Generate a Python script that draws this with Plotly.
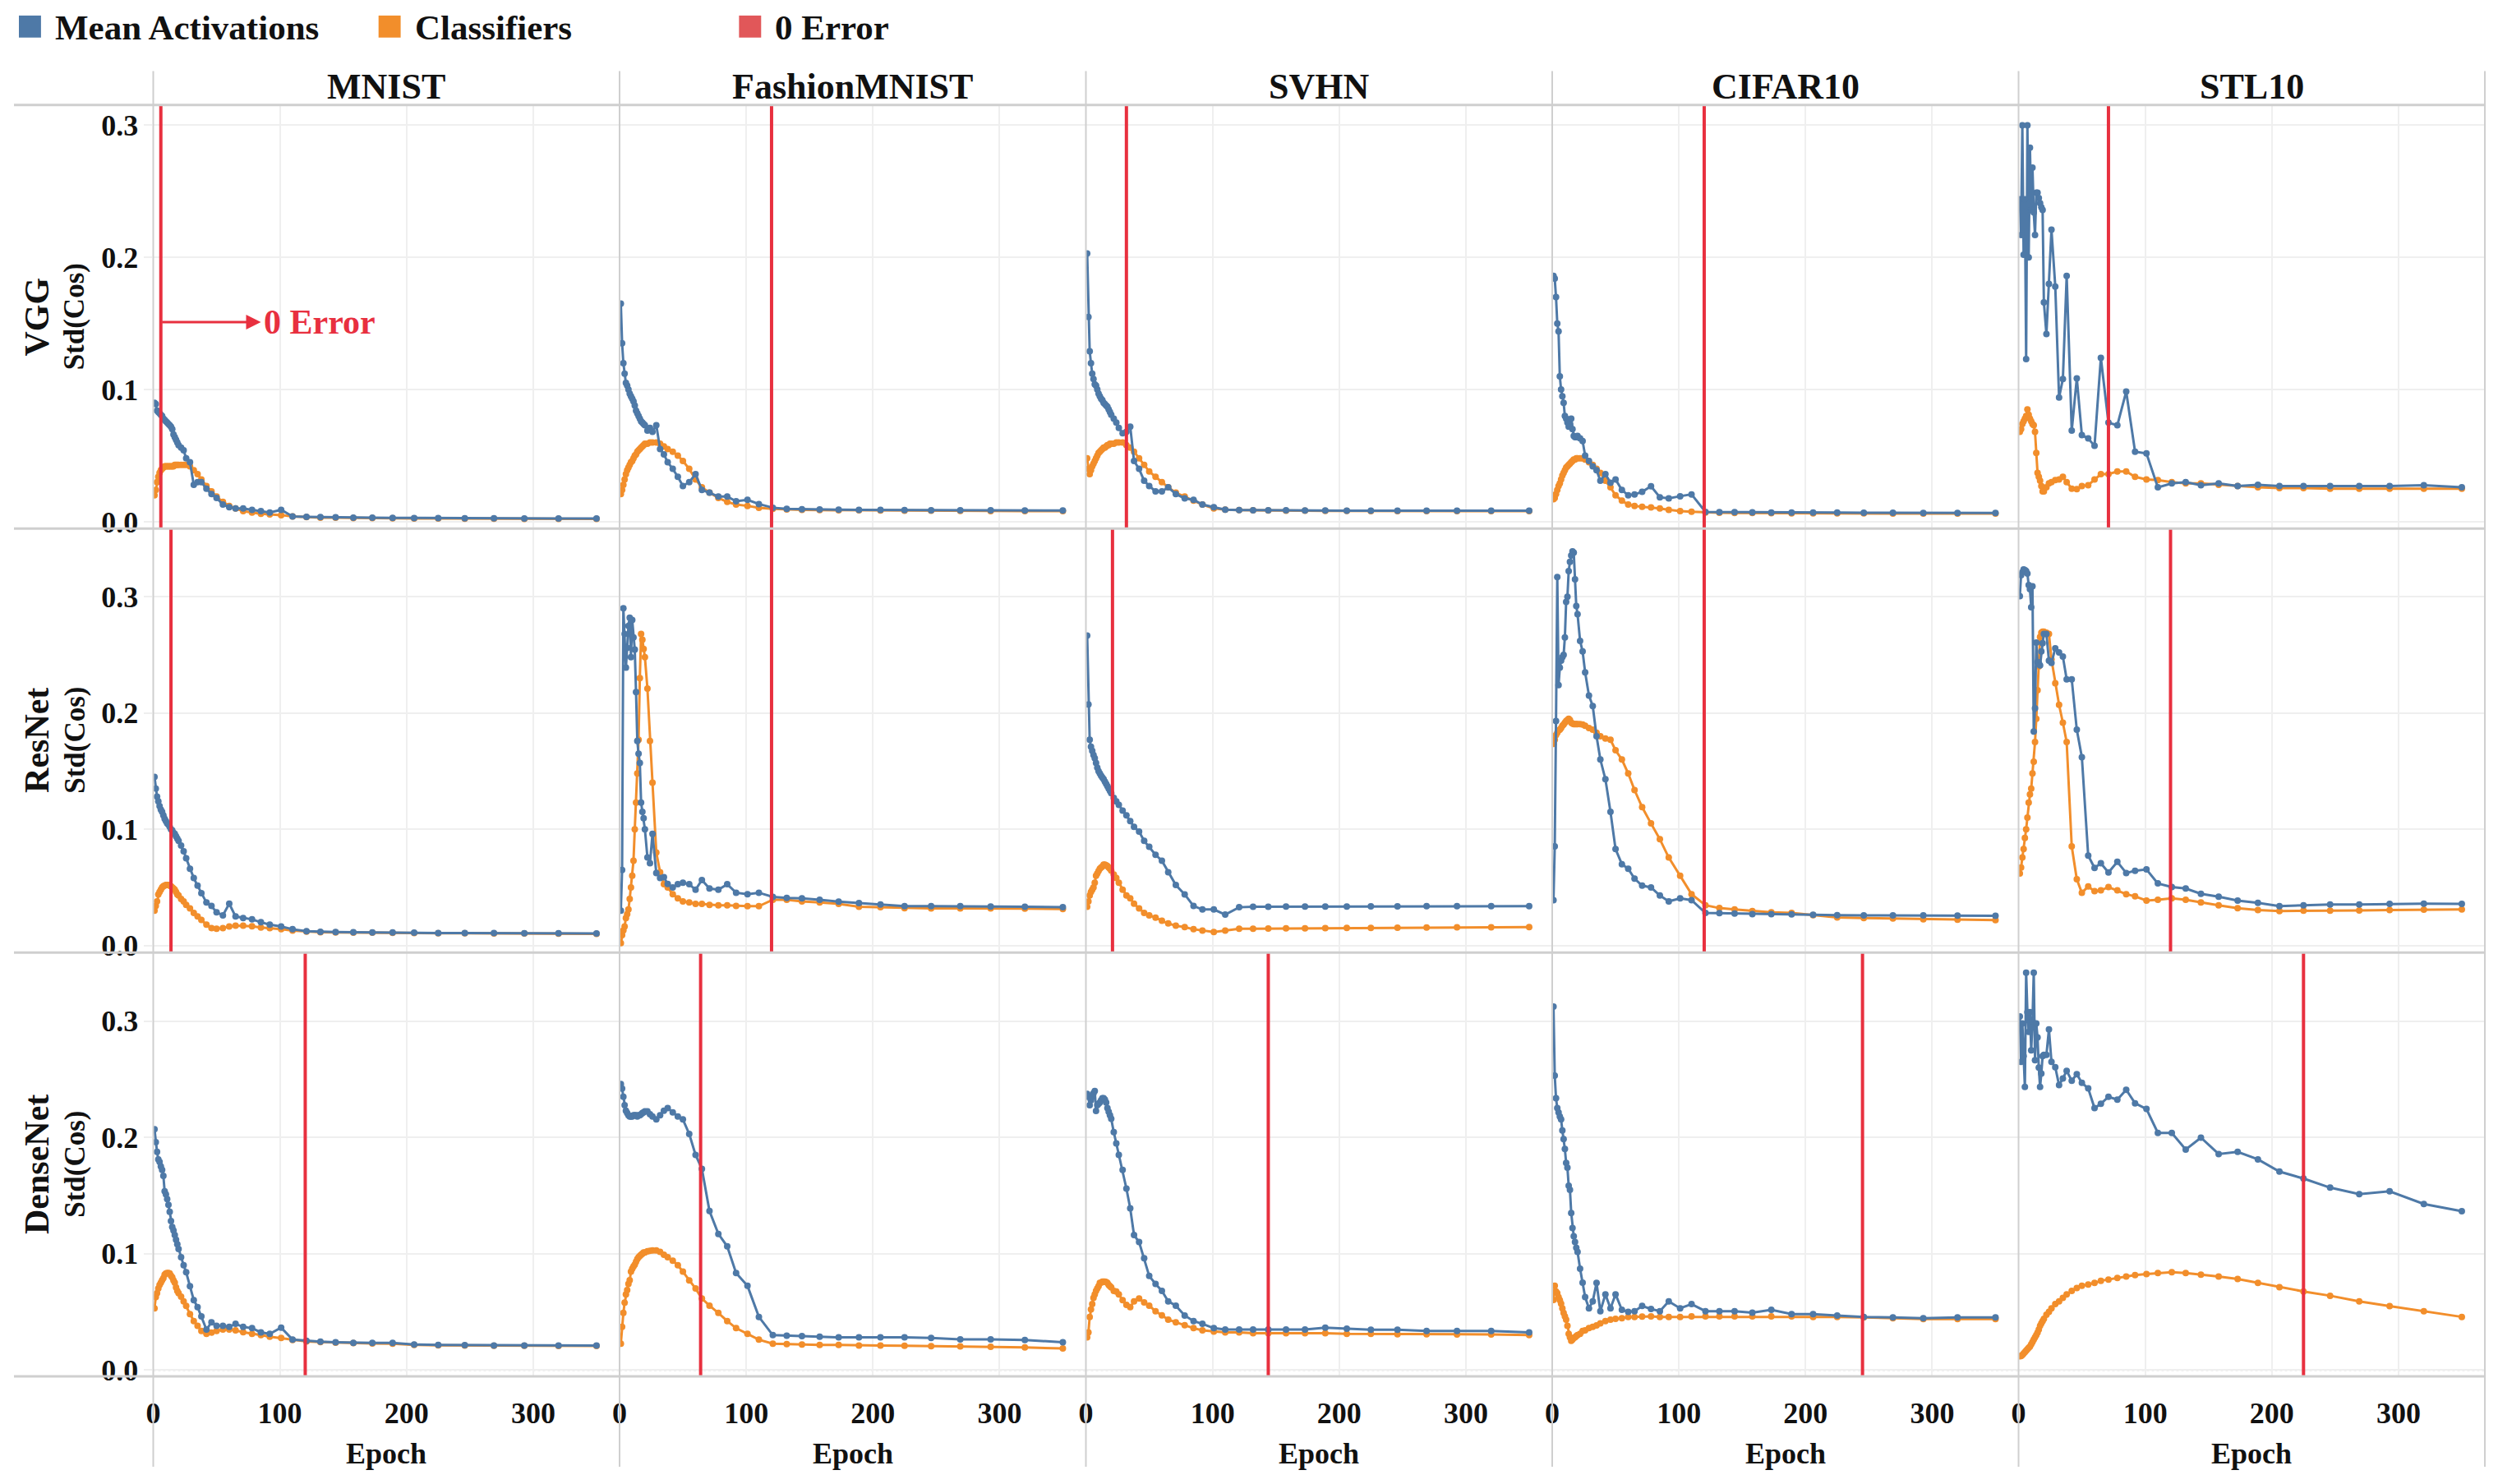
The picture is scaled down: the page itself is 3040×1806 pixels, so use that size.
import plotly.graph_objects as go

# ---------------- data ----------------
EPOCHS = [1, 2, 3, 4, 5, 6, 7, 8, 9, 10,
          11, 12, 13, 14, 15, 16, 17, 18, 19, 20,
          22, 24, 26, 29,
          32, 35, 38, 42, 46, 50,
          55, 60, 65, 71, 78, 85, 92, 101,
          110, 121, 132, 144, 158, 173, 189, 206, 225, 246, 269, 293, 320, 350]

DATASETS = ["MNIST", "FashionMNIST", "SVHN", "CIFAR10", "STL10"]
MODELS = ["VGG", "ResNet", "DenseNet"]
Y_TICKS = [0.0, 0.1, 0.2, 0.3]
X_TICKS = [0, 100, 200, 300]

# epoch at which training error reaches 0 (red lines)
zero_error_vgg = [6, 120, 32, 120, 71]
zero_error_resnet = [14, 120, 21, 120, 120]
zero_error_densenet = [120, 64, 144, 245, 225]

# ---- VGG ----
vgg_mnist_act = [0.090, 0.089, 0.084, 0.083, 0.082, 0.081, 0.080, 0.078, 0.077, 0.076,
                 0.075, 0.074, 0.073, 0.072, 0.070, 0.066, 0.064, 0.062, 0.060, 0.058,
                 0.056, 0.054, 0.048, 0.045,
                 0.028, 0.030, 0.030, 0.025, 0.021, 0.018,
                 0.013, 0.011, 0.010, 0.010, 0.009, 0.008, 0.007, 0.009,
                 0.0040, 0.0037, 0.0035, 0.0033, 0.0031, 0.0030, 0.0029, 0.0028, 0.0027, 0.0026, 0.0026, 0.0025, 0.0025, 0.0025]
vgg_mnist_cls = [0.020, 0.024, 0.030, 0.034, 0.037, 0.039, 0.040, 0.041, 0.042, 0.042,
                 0.042, 0.042, 0.042, 0.042, 0.042, 0.042, 0.043, 0.043, 0.043, 0.043,
                 0.043, 0.043, 0.043, 0.042,
                 0.039, 0.036, 0.032, 0.027, 0.023, 0.019,
                 0.015, 0.012, 0.010, 0.008, 0.007, 0.006, 0.0055, 0.005,
                 0.0040, 0.0035, 0.0030, 0.0030, 0.0028, 0.0027, 0.0026, 0.0025, 0.0024, 0.0023, 0.0023, 0.0022, 0.0022, 0.0022]
vgg_fmnist_act = [0.165, 0.135, 0.120, 0.112, 0.105, 0.103, 0.100, 0.097, 0.095, 0.093,
                  0.091, 0.088, 0.084, 0.082, 0.080, 0.078, 0.076, 0.075, 0.074, 0.073,
                  0.069, 0.071, 0.068, 0.073,
                  0.055, 0.051, 0.045, 0.040, 0.034, 0.027,
                  0.030, 0.036, 0.024, 0.022, 0.019, 0.019, 0.0155, 0.0166,
                  0.0134, 0.0106, 0.0098, 0.0095, 0.0093, 0.0091, 0.0090, 0.0089, 0.0088, 0.0087, 0.0086, 0.0086, 0.0085, 0.0085]
vgg_fmnist_cls = [0.021, 0.024, 0.028, 0.032, 0.036, 0.039, 0.041, 0.043, 0.045, 0.046,
                  0.048, 0.050, 0.051, 0.053, 0.054, 0.055, 0.056, 0.057, 0.058, 0.059,
                  0.059, 0.060, 0.060, 0.060,
                  0.059, 0.057, 0.055, 0.053, 0.050, 0.046,
                  0.040, 0.032, 0.026, 0.022, 0.018, 0.015, 0.013, 0.012,
                  0.0105, 0.0098, 0.0093, 0.0090, 0.0088, 0.0087, 0.0086, 0.0085, 0.0084, 0.0083, 0.0082, 0.0081, 0.0080, 0.0080]
vgg_svhn_act = [0.203, 0.155, 0.129, 0.120, 0.112, 0.108, 0.104, 0.103, 0.100, 0.097,
                0.095, 0.093, 0.092, 0.090, 0.089, 0.088, 0.087, 0.085, 0.083, 0.081,
                0.078, 0.075, 0.071, 0.067,
                0.068, 0.072, 0.046, 0.040, 0.031, 0.027,
                0.023, 0.023, 0.026, 0.021, 0.0177, 0.0166, 0.013, 0.011,
                0.0091, 0.0088, 0.0087, 0.0086, 0.0086, 0.0085, 0.0085, 0.0084, 0.0084, 0.0084, 0.0083, 0.0083, 0.0083, 0.0083]
vgg_svhn_cls = [0.048, 0.040, 0.036, 0.039, 0.042, 0.044, 0.046, 0.048, 0.050, 0.052,
                0.053, 0.054, 0.055, 0.056, 0.056, 0.057, 0.058, 0.058, 0.059, 0.059,
                0.059, 0.060, 0.060, 0.060,
                0.058, 0.056, 0.053, 0.048, 0.043, 0.038,
                0.034, 0.030, 0.026, 0.022, 0.019, 0.016, 0.013, 0.010,
                0.0092, 0.0088, 0.0086, 0.0085, 0.0084, 0.0083, 0.0082, 0.0082, 0.0081, 0.0081, 0.0080, 0.0080, 0.0080, 0.0080]
vgg_cifar_act = [0.186, 0.184, 0.170, 0.150, 0.144, 0.110, 0.100, 0.095, 0.090, 0.080,
                 0.078, 0.075, 0.072, 0.074, 0.078, 0.070, 0.065, 0.064, 0.064, 0.065,
                 0.063, 0.061, 0.050, 0.046,
                 0.042, 0.039, 0.031, 0.036, 0.0295, 0.032,
                 0.024, 0.020, 0.0207, 0.0226, 0.0268, 0.0185, 0.0177, 0.0193,
                 0.0207, 0.0074, 0.0073, 0.0072, 0.0071, 0.0070, 0.0070, 0.0069, 0.0069, 0.0068, 0.0068, 0.0067, 0.0067, 0.0066]
vgg_cifar_cls = [0.017, 0.018, 0.021, 0.024, 0.027, 0.029, 0.032, 0.035, 0.037, 0.039,
                 0.041, 0.042, 0.043, 0.044, 0.045, 0.046, 0.047, 0.047, 0.048, 0.048,
                 0.048, 0.048, 0.047, 0.045,
                 0.043, 0.040, 0.037, 0.031, 0.026, 0.020,
                 0.016, 0.013, 0.012, 0.0113, 0.0108, 0.010, 0.009, 0.008,
                 0.0075, 0.0070, 0.0068, 0.0067, 0.0066, 0.0065, 0.0064, 0.0064, 0.0063, 0.0063, 0.0062, 0.0062, 0.0062, 0.0062]
vgg_stl_act = [0.244, 0.217, 0.300, 0.202, 0.244, 0.123, 0.300, 0.200, 0.283, 0.236,
               0.268, 0.234, 0.217, 0.249, 0.249, 0.245, 0.241, 0.238, 0.236, 0.166,
               0.142, 0.180, 0.221, 0.178,
               0.094, 0.108, 0.186, 0.069, 0.1085, 0.0655,
               0.063, 0.0574, 0.124, 0.075, 0.073, 0.0985, 0.053, 0.0517,
               0.026, 0.029, 0.030, 0.0277, 0.029, 0.027, 0.028, 0.027, 0.027, 0.027, 0.027, 0.027, 0.0277, 0.026]
vgg_stl_cls = [0.068, 0.070, 0.074, 0.076, 0.078, 0.080, 0.085, 0.081, 0.078, 0.076,
               0.074, 0.073, 0.068, 0.052, 0.037, 0.034, 0.031, 0.027, 0.023, 0.023,
               0.026, 0.029, 0.030, 0.0315,
               0.032, 0.034, 0.030, 0.025, 0.0247, 0.027,
               0.0277, 0.032, 0.036, 0.036, 0.038, 0.038, 0.034, 0.032,
               0.0315, 0.030, 0.029, 0.029, 0.028, 0.027, 0.026, 0.0255, 0.0255, 0.025, 0.025, 0.025, 0.025, 0.025]

# ---- ResNet ----
resnet_mnist_act = [0.145, 0.135, 0.128, 0.124, 0.120, 0.117, 0.115, 0.112, 0.109, 0.107,
                    0.105, 0.104, 0.102, 0.100, 0.099, 0.097, 0.096, 0.094, 0.092, 0.090,
                    0.086, 0.081, 0.075, 0.066,
                    0.058, 0.0515, 0.045, 0.037, 0.034, 0.0285,
                    0.026, 0.036, 0.025, 0.0237, 0.0225, 0.020, 0.018, 0.0164,
                    0.014, 0.0123, 0.0118, 0.0116, 0.0114, 0.0112, 0.0112, 0.0110, 0.0108, 0.0108, 0.0107, 0.0106, 0.0105, 0.0104]
resnet_mnist_cls = [0.030, 0.034, 0.038, 0.044, 0.046, 0.048, 0.050, 0.051, 0.0515, 0.052,
                    0.052, 0.052, 0.0515, 0.051, 0.050, 0.049, 0.048, 0.046, 0.044, 0.043,
                    0.040, 0.038, 0.035, 0.032,
                    0.028, 0.025, 0.022, 0.018, 0.015, 0.0145,
                    0.015, 0.0164, 0.017, 0.017, 0.0165, 0.0155, 0.015, 0.014,
                    0.0128, 0.0120, 0.0115, 0.0113, 0.0111, 0.0110, 0.0109, 0.0107, 0.0106, 0.0105, 0.0104, 0.0103, 0.0102, 0.0101]
resnet_fmnist_act = [0.030, 0.065, 0.290, 0.268, 0.239, 0.256, 0.275, 0.282, 0.248, 0.280,
                     0.265, 0.2545, 0.218, 0.176, 0.165, 0.157, 0.123, 0.115, 0.1095, 0.100,
                     0.0757, 0.0708, 0.096, 0.0624,
                     0.058, 0.0587, 0.053, 0.050, 0.0527, 0.054,
                     0.0527, 0.048, 0.0563, 0.049, 0.048, 0.0527, 0.0454, 0.0442,
                     0.0454, 0.0418, 0.0410, 0.0406, 0.0394, 0.0377, 0.0365, 0.0353, 0.0338, 0.0338, 0.0338, 0.0336, 0.0334, 0.0329]
resnet_fmnist_cls = [0.002, 0.009, 0.013, 0.0164, 0.0237, 0.027, 0.031, 0.040, 0.050, 0.060,
                     0.073, 0.100, 0.123, 0.148, 0.177, 0.230, 0.268, 0.263, 0.255, 0.248,
                     0.221, 0.176, 0.140, 0.080,
                     0.063, 0.0527, 0.050, 0.0442, 0.0406, 0.038,
                     0.037, 0.0358, 0.0358, 0.035, 0.0346, 0.0345, 0.034, 0.0338,
                     0.0338, 0.0394, 0.0394, 0.0380, 0.0370, 0.0358, 0.0334, 0.0329, 0.0321, 0.0320, 0.0320, 0.0320, 0.0318, 0.0314]
resnet_svhn_act = [0.2666, 0.2074, 0.177, 0.171, 0.1675, 0.164, 0.161, 0.157, 0.153, 0.150,
                   0.148, 0.146, 0.1445, 0.143, 0.141, 0.139, 0.137, 0.135, 0.133, 0.131,
                   0.127, 0.124, 0.121, 0.116,
                   0.112, 0.107, 0.102, 0.098, 0.090, 0.085,
                   0.078, 0.073, 0.063, 0.052, 0.044, 0.034, 0.031, 0.031,
                   0.0266, 0.0329, 0.0334, 0.0334, 0.0336, 0.0336, 0.0336, 0.0336, 0.0337, 0.0337, 0.0338, 0.0338, 0.0338, 0.0338]
resnet_svhn_cls = [0.0334, 0.038, 0.043, 0.046, 0.048, 0.050, 0.054, 0.060, 0.062, 0.064,
                   0.066, 0.067, 0.068, 0.0696, 0.0696, 0.069, 0.0684, 0.067, 0.066, 0.0645,
                   0.061, 0.058, 0.054, 0.048,
                   0.043, 0.0406, 0.036, 0.032, 0.028, 0.026,
                   0.024, 0.0213, 0.019, 0.017, 0.0158, 0.014, 0.0128, 0.0116,
                   0.0128, 0.0145, 0.0145, 0.0146, 0.0147, 0.0148, 0.0150, 0.0151, 0.0152, 0.0153, 0.0155, 0.0156, 0.0157, 0.0158]
resnet_cifar_act = [0.039, 0.0853, 0.193, 0.317, 0.224, 0.239, 0.245, 0.248, 0.250, 0.265,
                    0.2956, 0.300, 0.322, 0.330, 0.3355, 0.339, 0.338, 0.315, 0.292, 0.285,
                    0.262, 0.253, 0.235, 0.215,
                    0.206, 0.180, 0.160, 0.143, 0.115, 0.083,
                    0.070, 0.066, 0.0575, 0.0515, 0.050, 0.043, 0.038, 0.0406,
                    0.039, 0.028, 0.0278, 0.0275, 0.0270, 0.0270, 0.0268, 0.0265, 0.0261, 0.0260, 0.0260, 0.0260, 0.0258, 0.0256]
resnet_cifar_cls = [0.1735, 0.177, 0.181, 0.183, 0.185, 0.1856, 0.187, 0.189, 0.190, 0.1917,
                    0.193, 0.194, 0.195, 0.194, 0.1917, 0.191, 0.1905, 0.1905, 0.1905, 0.1905,
                    0.1905, 0.190, 0.189, 0.187,
                    0.1856, 0.183, 0.180, 0.178, 0.177, 0.168,
                    0.160, 0.148, 0.1337, 0.119, 0.105, 0.0914, 0.0757, 0.060,
                    0.0442, 0.0346, 0.0322, 0.0310, 0.0297, 0.0285, 0.0280, 0.0261, 0.0242, 0.0237, 0.0232, 0.0226, 0.0222, 0.0218]
resnet_stl_act = [0.3005, 0.3186, 0.321, 0.3234, 0.323, 0.322, 0.320, 0.310, 0.3065, 0.291,
                  0.309, 0.184, 0.204, 0.2606, 0.2437, 0.243, 0.241, 0.253, 0.260, 0.268,
                  0.268, 0.245, 0.243, 0.2557,
                  0.252, 0.2485, 0.229, 0.229, 0.1856, 0.162,
                  0.0773, 0.0667, 0.0708, 0.0628, 0.072, 0.0624, 0.0643, 0.0655,
                  0.0534, 0.0503, 0.0490, 0.0445, 0.0420, 0.0387, 0.0367, 0.0338, 0.0346, 0.0353, 0.0353, 0.0358, 0.0360, 0.0358]
resnet_stl_cls = [0.062, 0.067, 0.0757, 0.083, 0.0926, 0.100, 0.110, 0.123, 0.130, 0.135,
                  0.148, 0.158, 0.175, 0.195, 0.2195, 0.240, 0.2654, 0.269, 0.270, 0.270,
                  0.269, 0.268, 0.246, 0.2255,
                  0.207, 0.1917, 0.175, 0.0853, 0.057, 0.0454,
                  0.0508, 0.0467, 0.0474, 0.0503, 0.0474, 0.0442, 0.0423, 0.0387,
                  0.0394, 0.0406, 0.0394, 0.0370, 0.0346, 0.0321, 0.0305, 0.0297, 0.0300, 0.0300, 0.0302, 0.0305, 0.0308, 0.0310]

# ---- DenseNet ----
densenet_mnist_act = [0.207, 0.196, 0.1876, 0.181, 0.179, 0.175, 0.172, 0.167, 0.1536, 0.151,
                      0.147, 0.142, 0.136, 0.128, 0.123, 0.120, 0.116, 0.112, 0.108, 0.104,
                      0.097, 0.090, 0.084, 0.072,
                      0.060, 0.054, 0.046, 0.0347, 0.041, 0.038,
                      0.038, 0.037, 0.0396, 0.037, 0.0359, 0.0323, 0.031, 0.0364,
                      0.026, 0.025, 0.0243, 0.0238, 0.0233, 0.0232, 0.0232, 0.0218, 0.0214, 0.0213, 0.0209, 0.0210, 0.0209, 0.0209]
densenet_mnist_cls = [0.053, 0.0626, 0.066, 0.070, 0.073, 0.075, 0.0772, 0.079, 0.082, 0.083,
                      0.0833, 0.0833, 0.083, 0.081, 0.0796, 0.077, 0.075, 0.071, 0.068, 0.066,
                      0.063, 0.059, 0.055, 0.048,
                      0.042, 0.038, 0.0335, 0.031, 0.032, 0.0335,
                      0.0347, 0.0347, 0.034, 0.0325, 0.031, 0.030, 0.0286, 0.0274,
                      0.0257, 0.0245, 0.0240, 0.0235, 0.0230, 0.0228, 0.0226, 0.0215, 0.0211, 0.0210, 0.0207, 0.0207, 0.0206, 0.0206]
densenet_fmnist_act = [0.246, 0.242, 0.235, 0.2277, 0.223, 0.221, 0.219, 0.218, 0.218, 0.218,
                       0.219, 0.219, 0.219, 0.218, 0.219, 0.219, 0.220, 0.221, 0.2216, 0.2225,
                       0.2225, 0.220, 0.218, 0.2155,
                       0.219, 0.223, 0.2252, 0.2216, 0.218, 0.2155,
                       0.203, 0.185, 0.173, 0.1367, 0.117, 0.1063, 0.0833, 0.0723,
                       0.0456, 0.0299, 0.0294, 0.0291, 0.0286, 0.0280, 0.0280, 0.0280, 0.0280, 0.0274, 0.0262, 0.0262, 0.0257, 0.0238]
densenet_fmnist_cls = [0.0226, 0.037, 0.049, 0.0578, 0.065, 0.0687, 0.074, 0.0772, 0.0845, 0.087,
                       0.089, 0.0905, 0.093, 0.0954, 0.097, 0.098, 0.099, 0.100, 0.101, 0.101,
                       0.102, 0.1025, 0.1027, 0.1027,
                       0.1015, 0.099, 0.097, 0.094, 0.090, 0.0845,
                       0.077, 0.070, 0.0614, 0.0553, 0.049, 0.042, 0.0359, 0.031,
                       0.0260, 0.0226, 0.0221, 0.0218, 0.0214, 0.0214, 0.0209, 0.0209, 0.0207, 0.0204, 0.0202, 0.0199, 0.0194, 0.0184]
densenet_svhn_act = [0.2374, 0.235, 0.2277, 0.232, 0.235, 0.238, 0.240, 0.2228, 0.2277, 0.229,
                     0.230, 0.232, 0.2337, 0.2337, 0.2325, 0.230, 0.2252, 0.222, 0.219, 0.216,
                     0.2046, 0.1949, 0.185, 0.172,
                     0.156, 0.139, 0.116, 0.110, 0.096, 0.0808,
                     0.074, 0.068, 0.059, 0.0553, 0.0468, 0.042, 0.0396, 0.0359,
                     0.0347, 0.0347, 0.0347, 0.0347, 0.0347, 0.0347, 0.0364, 0.0354, 0.0345, 0.0345, 0.0335, 0.0335, 0.0335, 0.0323]
densenet_svhn_cls = [0.028, 0.0323, 0.0456, 0.052, 0.0566, 0.062, 0.065, 0.068, 0.070, 0.072,
                     0.0748, 0.075, 0.076, 0.076, 0.076, 0.0755, 0.0748, 0.073, 0.072, 0.071,
                     0.068, 0.0675, 0.065, 0.060,
                     0.056, 0.054, 0.059, 0.0614, 0.058, 0.0553,
                     0.0505, 0.047, 0.0432, 0.041, 0.0385, 0.0359, 0.034, 0.033,
                     0.0323, 0.0323, 0.0316, 0.0316, 0.0316, 0.0316, 0.0315, 0.0310, 0.0310, 0.0306, 0.0306, 0.0305, 0.0305, 0.0300]
densenet_cifar_act = [0.3126, 0.2532, 0.2337, 0.2252, 0.2216, 0.218, 0.2155, 0.206, 0.1985, 0.190,
                      0.178, 0.174, 0.1585, 0.155, 0.135, 0.122, 0.115, 0.110, 0.105, 0.1015,
                      0.087, 0.075, 0.0626, 0.053,
                      0.059, 0.0748, 0.0505, 0.065, 0.053, 0.065,
                      0.0517, 0.050, 0.0505, 0.055, 0.0524, 0.0505, 0.059, 0.053,
                      0.0566, 0.0505, 0.0505, 0.0505, 0.0493, 0.0517, 0.0480, 0.0480, 0.0468, 0.0456, 0.0451, 0.0444, 0.0451, 0.0451]
densenet_cifar_cls = [0.0602, 0.0723, 0.0675, 0.066, 0.0626, 0.060, 0.057, 0.053, 0.049, 0.046,
                      0.0432, 0.038, 0.031, 0.028, 0.025, 0.026, 0.0274, 0.028, 0.029, 0.030,
                      0.031, 0.0335, 0.034, 0.0359,
                      0.037, 0.0383, 0.040, 0.042, 0.0432, 0.044,
                      0.0444, 0.0456, 0.0456, 0.0458, 0.0461, 0.0456, 0.0456, 0.0456,
                      0.0461, 0.0461, 0.0461, 0.0461, 0.0461, 0.0461, 0.0461, 0.0456, 0.0456, 0.0451, 0.0444, 0.0437, 0.0437, 0.0437]
densenet_stl_act = [0.304, 0.265, 0.298, 0.270, 0.2434, 0.3417, 0.3078, 0.2908, 0.3078, 0.275,
                    0.300, 0.3417, 0.2665, 0.298, 0.286, 0.260, 0.2434, 0.255, 0.270, 0.271,
                    0.271, 0.293, 0.265, 0.2604,
                    0.245, 0.2507, 0.2573, 0.2488, 0.2544, 0.247,
                    0.2422, 0.2252, 0.2289, 0.235, 0.2325, 0.241, 0.2294, 0.2245,
                    0.2039, 0.2039, 0.1896, 0.1998, 0.1857, 0.1876, 0.1811, 0.1706, 0.1646, 0.1568, 0.1512, 0.1536, 0.1427, 0.1366]
densenet_stl_cls = [0.0117, 0.012, 0.0129, 0.014, 0.0153, 0.0165, 0.0177, 0.019, 0.020, 0.022,
                    0.024, 0.026, 0.028, 0.030, 0.032, 0.0347, 0.038, 0.040, 0.042, 0.044,
                    0.0475, 0.050, 0.053, 0.0566,
                    0.059, 0.062, 0.065, 0.068, 0.0705, 0.0723,
                    0.0735, 0.0748, 0.0767, 0.0777, 0.0791, 0.0803, 0.0816, 0.0825,
                    0.0833, 0.0840, 0.0833, 0.0820, 0.0803, 0.0782, 0.0748, 0.0711, 0.0675, 0.0638, 0.0590, 0.0549, 0.0505, 0.0456]

ACT = [[vgg_mnist_act, vgg_fmnist_act, vgg_svhn_act, vgg_cifar_act, vgg_stl_act],
       [resnet_mnist_act, resnet_fmnist_act, resnet_svhn_act, resnet_cifar_act, resnet_stl_act],
       [densenet_mnist_act, densenet_fmnist_act, densenet_svhn_act, densenet_cifar_act, densenet_stl_act]]
CLS = [[vgg_mnist_cls, vgg_fmnist_cls, vgg_svhn_cls, vgg_cifar_cls, vgg_stl_cls],
       [resnet_mnist_cls, resnet_fmnist_cls, resnet_svhn_cls, resnet_cifar_cls, resnet_stl_cls],
       [densenet_mnist_cls, densenet_fmnist_cls, densenet_svhn_cls, densenet_cifar_cls, densenet_stl_cls]]
ZERO_ERR = [zero_error_vgg, zero_error_resnet, zero_error_densenet]

for row in ACT + CLS:
    for s in row:
        assert len(s) == len(EPOCHS), len(s)

# ---------------- style / layout ----------------
PAGE_W, PAGE_H = 3040, 1806
OFF = 8                      # default page (body) margin of the browser
W, H = PAGE_W - 2 * OFF, PAGE_H - 2 * OFF
BLUE, ORANGE, RED, LEG_RED = "#4e79a7", "#f28e2b", "#e8303f", "#e15759"
GRID, BORDER = "#efefef", "#cfcfcf"
FONT = "Liberation Serif"
X0, PW = 178.0, 569.2
ROW_TOP = [128.6, 647.8, 1167.6]
PH = 519.5
Y_RANGES = [[-0.0053, 0.3154], [-0.0058, 0.3587], [-0.0055, 0.3591]]
X_RANGE = [0, 368.2]


def px(x):
    return (x - OFF) / W


def py(y):
    return max(0.0, min(1.0, 1 - (y - OFF) / H))


fig = go.Figure()
shapes, annotations = [], []
layout_axes = {}

for r in range(3):
    for c in range(5):
        i = r * 5 + c + 1
        sfx = "" if i == 1 else str(i)
        xref, yref = "x" + sfx, "y" + sfx
        fig.add_trace(go.Scatter(x=EPOCHS, y=CLS[r][c], mode="lines+markers", name="Classifiers",
                                 line=dict(color=ORANGE, width=3), marker=dict(color=ORANGE, size=8),
                                 xaxis=xref, yaxis=yref, showlegend=False))
        fig.add_trace(go.Scatter(x=EPOCHS, y=ACT[r][c], mode="lines+markers", name="Mean Activations",
                                 line=dict(color=BLUE, width=3), marker=dict(color=BLUE, size=8),
                                 xaxis=xref, yaxis=yref, showlegend=False))
        layout_axes["xaxis" + sfx] = dict(
            domain=[px(X0 + c * PW), px(X0 + (c + 1) * PW)], range=X_RANGE, anchor=yref,
            tickvals=X_TICKS, showgrid=True, gridcolor=GRID, gridwidth=2, zeroline=False,
            showline=False, showticklabels=(r == 2), ticks="",
            ticklabelstandoff=20,
            tickfont=dict(family=FONT, size=36, color="#111", weight="bold"))
        layout_axes["yaxis" + sfx] = dict(
            domain=[py(ROW_TOP[r] + PH), py(ROW_TOP[r])], range=Y_RANGES[r], anchor=xref,
            tickvals=Y_TICKS, ticktext=["0.0", "0.1", "0.2", "0.3"],
            showgrid=True, gridcolor=GRID, gridwidth=2, zeroline=False, showline=False,
            showticklabels=(c == 0), ticks="outside" if c == 0 else "", ticklen=10, tickcolor=GRID,
            tickwidth=2,
            tickfont=dict(family=FONT, size=36, color="#111", weight="bold"))
        # dotted zero line
        shapes.append(dict(type="line", xref=xref + " domain", yref=yref, x0=0, x1=1, y0=0, y1=0,
                           line=dict(color="#bdbdbd", width=2, dash="dot"), layer="below"))
        # zero-error line
        e = ZERO_ERR[r][c]
        shapes.append(dict(type="line", xref=xref, yref=yref + " domain", x0=e, x1=e, y0=0, y1=1,
                           line=dict(color=RED, width=4)))

# panel separators
for k in range(6):
    x = px(X0 + k * PW)
    shapes.append(dict(type="line", xref="paper", yref="paper", x0=x, x1=x, y0=py(87), y1=0,
                       line=dict(color=BORDER, width=2)))
for yb in [ROW_TOP[0], ROW_TOP[1], ROW_TOP[2], ROW_TOP[2] + PH]:
    shapes.append(dict(type="line", xref="paper", yref="paper", x0=0, x1=px(X0 + 5 * PW),
                       y0=py(yb), y1=py(yb), line=dict(color=BORDER, width=3)))

# column headers and x titles
for c, name in enumerate(DATASETS):
    xc = px(X0 + (c + 0.5) * PW)
    annotations.append(dict(text=name, x=xc, y=py(106), xref="paper", yref="paper",
                            showarrow=False, xanchor="center", yanchor="middle",
                            font=dict(family=FONT, size=44, color="#111", weight="bold")))
    annotations.append(dict(text="Epoch", x=xc, y=py(1782), xref="paper", yref="paper",
                            showarrow=False, xanchor="center", yanchor="middle",
                            font=dict(family=FONT, size=36, color="#111", weight="bold")))

# row headers
for r, m in enumerate(MODELS):
    yc = py(ROW_TOP[r] + PH / 2)
    annotations.append(dict(text=m, x=px(36), y=yc, xref="paper", yref="paper", textangle=-90,
                            showarrow=False, xanchor="center", yanchor="middle",
                            font=dict(family=FONT, size=42, color="#111", weight="bold")))
    annotations.append(dict(text="Std(Cos)", x=px(82), y=yc, xref="paper", yref="paper", textangle=-90,
                            showarrow=False, xanchor="center", yanchor="middle",
                            font=dict(family=FONT, size=35, color="#111", weight="bold")))

# manual legend
LEGEND = [("Mean Activations", BLUE, 14), ("Classifiers", ORANGE, 453), ("0 Error", LEG_RED, 893)]
for label, col, x in LEGEND:
    shapes.append(dict(type="rect", xref="paper", yref="paper", x0=px(x), x1=px(x + 27),
                       y0=py(46), y1=py(19), fillcolor=col, line=dict(width=0)))
    annotations.append(dict(text=label, x=px(x + 42), y=py(34), xref="paper", yref="paper",
                            showarrow=False, xanchor="left", yanchor="middle",
                            font=dict(family=FONT, size=43, color="#111", weight="bold")))

# "0 Error" callout in the VGG / MNIST panel
annotations.append(dict(text="0 Error", x=86, y=0.151, xref="x", yref="y", showarrow=False,
                        xanchor="left", yanchor="middle",
                        font=dict(family=FONT, size=42, color=RED, weight="bold")))
annotations.append(dict(text="", x=85, y=0.151, ax=zero_error_vgg[0], ay=0.151, xref="x", yref="y",
                        axref="x", ayref="y", showarrow=True, arrowhead=2, arrowsize=1.2,
                        arrowwidth=3, arrowcolor=RED, standoff=0, startstandoff=0))

fig.update_layout(width=W, height=H, margin=dict(l=0, r=0, t=0, b=0), autosize=False,
                  paper_bgcolor="white", plot_bgcolor="white", showlegend=False,
                  shapes=shapes, annotations=annotations, **layout_axes)

fig.write_html("out.html")
